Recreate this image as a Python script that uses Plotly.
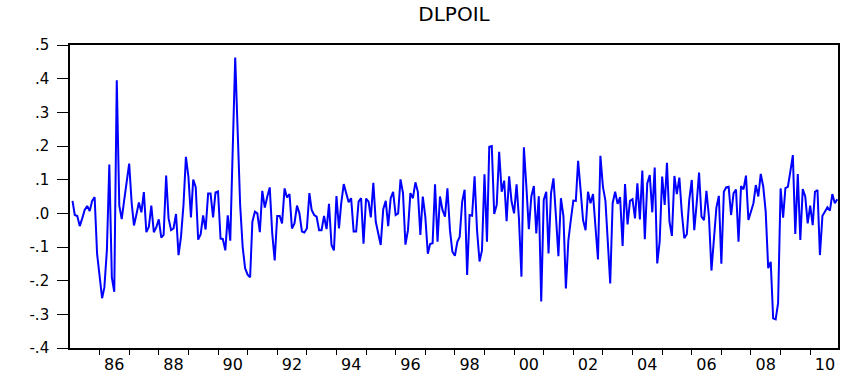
import pandas as pd
import plotly.graph_objects as go

# DLPOIL monthly, first observation 1985M02
start_month = "1985-02-01"
dlpoil = [
    0.037, -0.005, -0.008, -0.038, -0.015, 0.010, 0.022, 0.007, 0.037, 0.048,
    -0.120, -0.195, -0.252, -0.220, -0.110, 0.145, -0.190, -0.233, 0.395,
    0.023, -0.017, 0.040, 0.095, 0.148, 0.030, -0.036, -0.003, 0.032, 0.003,
    0.063, -0.056, -0.040, 0.023, -0.056, -0.042, -0.018, -0.072, -0.064,
    0.112, -0.015, -0.050, -0.045, -0.002, -0.124, -0.070, 0.025, 0.168, 0.108,
    -0.012, 0.100, 0.078, -0.078, -0.062, -0.006, -0.048, 0.059, 0.059, -0.012,
    0.062, 0.065, -0.075, -0.076, -0.110, -0.006, -0.081, 0.210, 0.463, 0.240,
    0.025, -0.100, -0.163, -0.182, -0.190, -0.025, 0.005, 0.000, -0.056,
    0.067, 0.017, 0.050, 0.077, -0.060, -0.140, -0.008, -0.008, -0.030, 0.074,
    0.047, 0.057, -0.045, -0.030, 0.023, 0.000, -0.054, -0.057, -0.045, 0.060,
    0.010, -0.005, -0.010, -0.050, -0.050, -0.008, -0.047, 0.028, -0.094, -0.110,
    0.051, -0.045, 0.030, 0.087, 0.060, 0.033, 0.045, -0.054,
    -0.054, 0.035, 0.045, -0.090, 0.044, 0.035, -0.012, 0.091, -0.025, -0.060,
    -0.094, 0.012, 0.037, -0.038, 0.045, 0.064, -0.005, 0.000, 0.101, 0.060,
    -0.093, -0.050, 0.060, 0.045, 0.092, 0.064, -0.064, 0.050, -0.010, -0.120,
    -0.091, -0.089, 0.086, -0.084, 0.050, 0.010, -0.010, 0.074,
    -0.050, -0.114, -0.126, -0.084, -0.070, 0.035, 0.070, -0.183, -0.005, -0.007,
    0.110, -0.050, -0.143, -0.110, 0.116, -0.084, 0.198, 0.200, -0.002, 0.025,
    0.183, 0.064, 0.097, -0.023, 0.110, 0.035, 0.000, 0.086, -0.015, -0.188,
    0.196, 0.079, -0.047, 0.050, 0.081, -0.060, 0.051, -0.262, 0.040,
    0.064, -0.119, 0.060, 0.104, -0.010, -0.127, 0.045, -0.008, -0.223, -0.080,
    -0.020, 0.038, 0.037, 0.156, 0.069, -0.020, -0.050, 0.064, 0.030, 0.057,
    -0.040, -0.137, 0.171, 0.079, 0.037, -0.089, -0.208, 0.030, 0.064, 0.028,
    0.048, -0.097, 0.087, -0.033, 0.037, 0.042, -0.015, 0.089, -0.018,
    0.127, -0.077, 0.089, 0.114, 0.003, 0.136, -0.149, -0.084, 0.109, 0.025,
    0.150, -0.025, -0.067, 0.111, 0.057, 0.106, 0.000, -0.074, -0.062, 0.040,
    0.099, -0.050, 0.025, 0.121, -0.010, -0.020, 0.067, -0.010, -0.170, -0.089,
    0.017, 0.052, -0.150, 0.064, 0.077, 0.079, -0.005, 0.060,
    0.071, -0.084, 0.081, 0.071, 0.112, -0.020, 0.002, 0.030, 0.084, 0.050,
    0.117, 0.079, 0.005, -0.163, -0.144, -0.312, -0.315, -0.267, 0.074, -0.013,
    0.075, 0.079, 0.124, 0.173, -0.061, 0.117, -0.079, 0.072, 0.050, -0.030,
    0.023, -0.035, 0.064, 0.069, -0.124, -0.007, 0.005, 0.018, 0.008, 0.057, 0.030, 0.042,
]

years_label = list(range(1986, 2011, 2))
year_ticks = list(range(1986, 2011))
y_ticks = [-0.4, -0.3, -0.2, -0.1, 0.0, 0.1, 0.2, 0.3, 0.4, 0.5]
y_labels = ["-.4", "-.3", "-.2", "-.1", ".0", ".1", ".2", ".3", ".4", ".5"]

dates = pd.date_range(start_month, periods=len(dlpoil), freq="MS")

fig = go.Figure()
fig.add_trace(go.Scatter(
    x=dates, y=dlpoil, mode="lines",
    line=dict(color="#0000FF", width=2),
    showlegend=False, hoverinfo="x+y",
))

font_family = "DejaVu Sans, Arial, sans-serif"

fig.update_layout(
    width=843, height=374,
    margin=dict(l=70, r=5, t=45, b=26, autoexpand=False),
    paper_bgcolor="white", plot_bgcolor="white",
    title=dict(text="DLPOIL", x=0.5, xref="paper", y=1 - 14 / 374, yref="container",
               xanchor="center", yanchor="middle", automargin=False,
               font=dict(family=font_family, size=20, color="#000000")),
    xaxis=dict(
        type="date",
        automargin=False,
        range=["1985-01-01", "2010-12-10"],
        tickmode="array",
        tickvals=[f"{y}-07-01" for y in years_label],
        ticktext=[f"{y % 100:02d}" for y in years_label],
        ticks="",
        ticklabelstandoff=1,
        tickfont=dict(family=font_family, size=16, color="#000000"),
        showgrid=False, zeroline=False,
        showline=True, linecolor="#000000", linewidth=1.6, mirror=True,
        minor=dict(tickmode="array", tickvals=[f"{y}-01-01" for y in year_ticks],
                   ticks="outside", ticklen=5, tickwidth=1, tickcolor="#000000",
                   showgrid=False),
    ),
    yaxis=dict(
        automargin=False,
        range=[-0.4, 0.5],
        tickmode="array", tickvals=y_ticks, ticktext=y_labels,
        ticks="outside", ticklen=11, tickwidth=1, tickcolor="#000000",
        ticklabelstandoff=5,
        tickfont=dict(family=font_family, size=15, color="#000000"),
        showgrid=False, zeroline=False,
        showline=True, linecolor="#000000", linewidth=1.6, mirror=True,
    ),
)

fig.write_html("out.html")
